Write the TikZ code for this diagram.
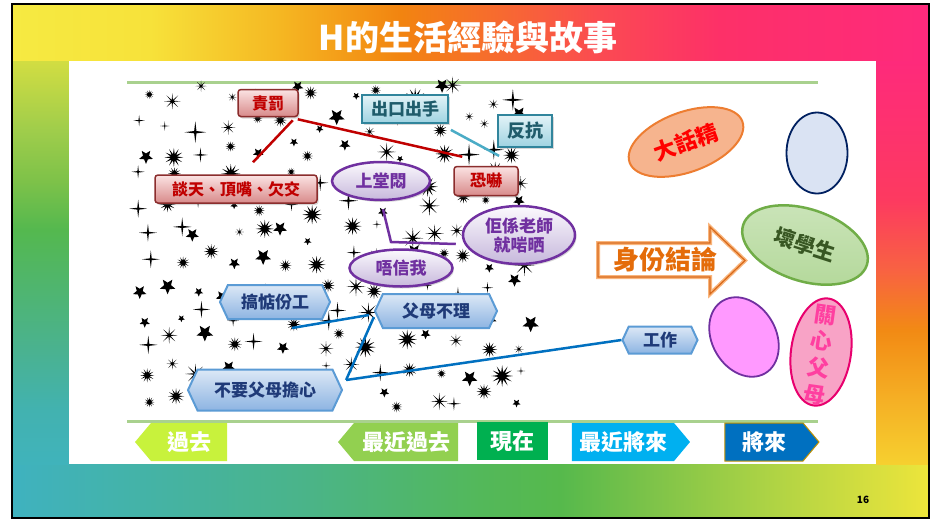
\documentclass[tikz,border=0pt]{standalone}
\usepackage{fontspec}
\setmainfont{Noto Sans CJK TC}
\usetikzlibrary{shapes.geometric,shapes.symbols,calc,shadows}

\definecolor{rbd}{HTML}{8B2D2D}
\definecolor{rtop}{HTML}{FBE3E3}
\definecolor{rbot}{HTML}{D88A8A}
\definecolor{rtxt}{HTML}{C00000}
\definecolor{tbd}{HTML}{31859C}
\definecolor{ttop}{HTML}{E3F3F7}
\definecolor{tbot}{HTML}{9FD3E1}
\definecolor{ttxt}{HTML}{1F5C6B}
\definecolor{pbd}{HTML}{7030A0}
\definecolor{ptop}{HTML}{FBF9FD}
\definecolor{pbot}{HTML}{C7B8DC}
\definecolor{bbd}{HTML}{5B9BD5}
\definecolor{btop}{HTML}{DCE8F6}
\definecolor{bbot}{HTML}{8DB4E2}
\definecolor{btxt}{HTML}{1F3A78}
\definecolor{lblue}{HTML}{0070C0}
\definecolor{lred}{HTML}{C00000}
\definecolor{lteal}{HTML}{4BACC6}
\definecolor{lgreen}{HTML}{A9D18E}
\definecolor{orfill}{HTML}{F6B48E}
\definecolor{orbd}{HTML}{ED7D31}
\definecolor{bl1fill}{HTML}{DAE3F3}
\definecolor{bl1bd}{HTML}{002060}
\definecolor{gfill}{HTML}{B5D99C}
\definecolor{gbd}{HTML}{70AD47}
\definecolor{gtxt}{HTML}{385723}
\definecolor{mgfill}{HTML}{FF99FF}
\definecolor{pkfill}{HTML}{F8A3C6}
\definecolor{pkbd}{HTML}{E8006E}
\definecolor{pktxt}{HTML}{FF3FA0}
\definecolor{arrtxt}{HTML}{E46C0A}
\definecolor{arrbd}{HTML}{D8691A}
\definecolor{arrin}{HTML}{F9B57C}
\definecolor{tl1}{HTML}{C8F23C}
\definecolor{tl2}{HTML}{92D050}
\definecolor{tl3}{HTML}{00B050}
\definecolor{tl4}{HTML}{00B0F0}
\definecolor{tl5}{HTML}{0070C0}
\definecolor{tl5bd}{HTML}{BF9000}

\pgfdeclarehorizontalshading{topstrip}{100bp}{
 color(0bp)=(rgb,255:red,246;green,234;blue,66);
 color(25bp)=(rgb,255:red,246;green,234;blue,66);
 color(32.5bp)=(rgb,255:red,247;green,226;blue,58);
 color(39.6bp)=(rgb,255:red,245;green,183;blue,34);
 color(46.2bp)=(rgb,255:red,242;green,132;blue,16);
 color(51.6bp)=(rgb,255:red,247;green,106;blue,48);
 color(57.1bp)=(rgb,255:red,251;green,74;blue,82);
 color(63.6bp)=(rgb,255:red,253;green,48;blue,104);
 color(75bp)=(rgb,255:red,254;green,42;blue,124);
 color(100bp)=(rgb,255:red,254;green,42;blue,124)}
\pgfdeclareverticalshading{rightstrip}{100bp}{
 color(0bp)=(rgb,255:red,246;green,208;blue,47);
 color(25bp)=(rgb,255:red,246;green,208;blue,47);
 color(32.9bp)=(rgb,255:red,245;green,176;blue,37);
 color(41.6bp)=(rgb,255:red,242;green,138;blue,20);
 color(49.1bp)=(rgb,255:red,248;green,98;blue,66);
 color(57.8bp)=(rgb,255:red,253;green,58;blue,96);
 color(75bp)=(rgb,255:red,254;green,42;blue,123);
 color(100bp)=(rgb,255:red,254;green,42;blue,123)}
\pgfdeclarehorizontalshading{bottomstrip}{100bp}{
 color(0bp)=(rgb,255:red,63;green,178;blue,191);
 color(25bp)=(rgb,255:red,63;green,178;blue,191);
 color(40.7bp)=(rgb,255:red,74;green,180;blue,138);
 color(50.5bp)=(rgb,255:red,83;green,184;blue,90);
 color(54.9bp)=(rgb,255:red,86;green,185;blue,76);
 color(59.8bp)=(rgb,255:red,125;green,195;blue,73);
 color(65.8bp)=(rgb,255:red,170;green,210;blue,69);
 color(75bp)=(rgb,255:red,237;green,229;blue,59);
 color(100bp)=(rgb,255:red,237;green,229;blue,59)}
\pgfdeclareverticalshading{leftstrip}{100bp}{
 color(0bp)=(rgb,255:red,64;green,179;blue,187);
 color(25bp)=(rgb,255:red,64;green,179;blue,187);
 color(31.7bp)=(rgb,255:red,66;green,178;blue,176);
 color(39.1bp)=(rgb,255:red,74;green,178;blue,144);
 color(46.6bp)=(rgb,255:red,79;green,181;blue,112);
 color(54bp)=(rgb,255:red,84;green,184;blue,79);
 color(60.2bp)=(rgb,255:red,126;green,194;blue,73);
 color(66.4bp)=(rgb,255:red,159;green,205;blue,75);
 color(75bp)=(rgb,255:red,210;green,221;blue,66);
 color(100bp)=(rgb,255:red,210;green,221;blue,66)}

\newcommand\spk[5]{\pgfmathtruncatemacro\spkn{2*#4-1}%
 \fill[black,shift={(#1,#2)}] (90:{#3}) \foreach \k in {1,...,\spkn}{ -- ({90+\k*180/#4}:{ifthenelse(isodd(\k),(#3)*#5,#3)}) } -- cycle;}

\tikzset{
 cjk/.style={font=\fontsize{#1}{#1}\selectfont\bfseries},
 shad/.style={drop shadow={shadow xshift=1.5pt,shadow yshift=-2pt,opacity=0.3}},
 redbox/.style={rectangle,rounded corners=3pt,draw=rbd,line width=1.5pt,top color=rtop,bottom color=rbot,text=rtxt,cjk=16,inner sep=0pt,shad},
 tealbox/.style={rectangle,draw=tbd,line width=1.8pt,top color=ttop,bottom color=tbot,text=ttxt,cjk=17,inner sep=0pt,shad},
 purpell/.style={ellipse,draw=pbd,line width=2.5pt,top color=ptop,bottom color=pbot,text=pbd,cjk=17,inner sep=0pt,shad},
 bluehex/.style={signal,signal to=west and east,signal pointer angle=130,draw=bbd,line width=2pt,top color=btop,bottom color=bbot,text=btxt,cjk=17,inner sep=0pt},
 conn/.style={line width=2.5pt},
 tlsig/.style={signal,signal pointer angle=100,inner sep=0pt,minimum height=38pt,text=white,cjk=22},
}

\begin{document}
\begin{tikzpicture}[x=1pt,y=-1pt]
\useasboundingbox (0,0) rectangle (933,520);
\fill[white] (0,0) rectangle (933,520);
% frame background
\shade[shading=topstrip] (12,4) rectangle (929,61);
\shade[shading=bottomstrip] (12,464) rectangle (929,518);
\shade[shading=leftstrip] (12,61) rectangle (69,464);
\shade[shading=rightstrip] (876,61) rectangle (929,464);
\fill[white] (69,61) rectangle (876,464);
\draw[line width=2pt] (12,4) rectangle (929,518);

\node[text=white,cjk=34] (title) at (468,37) {H的生活經驗與故事};
\node[cjk=10] (pg) at (863,500) {16};

% green rules
\draw[lgreen,line width=3pt] (127,82) -- (818,82);
\draw[lgreen,line width=3pt] (127,421) -- (818,421);

% star field (jittered grid)
\pgfmathsetseed{5}
\foreach \gx in {0,...,13}{
 \foreach \gy in {0,...,11}{
  \pgfmathsetmacro\sx{144+\gx*29+rand*11}
  \pgfmathsetmacro\sy{95+\gy*27.5+rand*10}
  \pgfmathsetmacro\sr{4+rnd*7}
  \pgfmathrandominteger\st{1}{4}
  \ifcase\st\or\spk{\sx}{\sy}{\sr}{4}{0.15}\or\spk{\sx}{\sy}{\sr}{12}{0.35}\or\spk{\sx}{\sy}{\sr*0.8}{5}{0.45}\or\spk{\sx}{\sy}{\sr}{8}{0.18}\fi
 }
}

% nodes (left cluster)
\node[redbox,minimum width=60pt,minimum height=27pt] (zefa) at (268,103) {責罰};
\node[redbox,minimum width=162pt,minimum height=28pt] (tan) at (236,189) {談天、頂嘴、欠交};
\node[redbox,minimum width=64pt,minimum height=29pt] (kong) at (486,181) {恐嚇};
\node[tealbox,minimum width=86pt,minimum height=28pt] (chukou) at (405,109) {出口出手};
\node[tealbox,minimum width=54pt,minimum height=32pt,cjk=18] (fankang) at (525,131) {反抗};
\node[purpell,minimum width=98pt,minimum height=38pt] (shang) at (381,181) {上堂悶};
\node[purpell,minimum width=112pt,minimum height=58pt,align=center] (ngoi) at (519,235) {佢係老師\\[2pt]就啱晒};
\node[purpell,minimum width=103pt,minimum height=37pt] (mseun) at (401,268) {唔信我};
\node[bluehex,minimum width=110pt,minimum height=34pt] (gaodim) at (275,302) {搞惦份工};
\node[bluehex,minimum width=122pt,minimum height=34pt] (fumou) at (436,311) {父母不理};
\node[bluehex,minimum width=154pt,minimum height=41pt] (mbat) at (265,390) {不要父母擔心};
\node[bluehex,minimum width=75pt,minimum height=27pt] (gongzok) at (660,340) {工作};

% connectors
\draw[lred,conn] ($(zefa.south east)+(-1,2)$) -- ($(kong.north west)+(9,-9)$);
\draw[lred,conn] ($(zefa.south east)+(-6,3)$) -- ($(tan.north)+(17,-12)$);
\draw[lteal,conn] ($(chukou.south east)+(2,6)$) -- ($(fankang.south west)+(2,8)$);
\coordinate (pbend) at (391,242);
\draw[pbd,conn] ($(shang.south)+(2,8)$) -- (pbend) -- ($(ngoi.west)+(-6,9)$);
\draw[lblue,conn] ($(gaodim.south)+(17,8)$) -- ($(fumou.west)+(-5,4)$);
\draw[lblue,conn] ($(mbat.east)+(3,-10)$) -- ($(fumou.west)+(0,6)$);
\draw[lblue,conn] ($(mbat.east)+(3,-10)$) -- (gongzok.west);

% right side
\node[ellipse,rotate=20,minimum width=120pt,minimum height=60pt,fill=orfill,draw=orbd,line width=2pt,text=red,cjk=22,inner sep=0pt] (daiwa) at (686,142) {大話精};
\node[ellipse,minimum width=61pt,minimum height=81pt,fill=bl1fill,draw=bl1bd,line width=1.8pt] (blank1) at (817,153) {};
\draw[line width=4pt,draw=arrin,fill=white] (598,243) -- (710,243) -- (710,227) -- (745,260.5) -- (710,294) -- (710,277) -- (598,277) -- cycle;
\draw[line width=1.2pt,draw=arrbd] (598,243) -- (710,243) -- (710,227) -- (745,260.5) -- (710,294) -- (710,277) -- (598,277) -- cycle;
\node[text=arrtxt,cjk=26] (sfjl) at (665,260) {身份結論};
\node[ellipse,rotate=-18,minimum width=130pt,minimum height=72pt,top color=gfill!70!white,bottom color=gfill,draw=gbd,line width=2.5pt,text=gtxt,cjk=21,inner sep=0pt] (waai) at (805,245) {壞學生};
\node[ellipse,rotate=-60,minimum width=84pt,minimum height=64pt,fill=mgfill,draw=pbd,line width=1.8pt] (blank2) at (744,337) {};
\node[ellipse,rotate=-8,minimum width=60pt,minimum height=108pt,fill=pkfill,draw=pkbd,line width=2pt,inner sep=0pt] (gwaan) at (821,352) {};
\node[rotate=-8,text=pktxt,cjk=22,align=center,inner sep=0pt] (gwaantxt) at (820,355) {關\\[5pt]心\\[5pt]父\\[5pt]母};

% timeline
\node[tlsig,signal to=west,fill=tl1,minimum width=92pt] (t1) at (189,442) {過去};
\node[tlsig,signal to=west,fill=tl2,minimum width=120pt] (t2) at (406,442) {最近過去};
\node[rectangle,fill=tl3,minimum width=71pt,minimum height=38pt,text=white,cjk=22,inner sep=0pt] (t3) at (512.5,441) {現在};
\node[tlsig,signal to=east,fill=tl4,minimum width=118pt] (t4) at (623,442) {最近將來};
\node[tlsig,signal to=east,fill=tl5,draw=tl5bd,line width=1pt,minimum width=94pt] (t5) at (764,442) {將來};
\end{tikzpicture}
\end{document}
